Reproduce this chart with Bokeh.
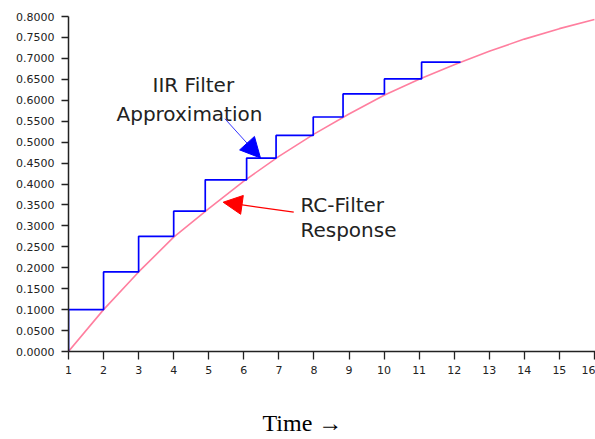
from bokeh.plotting import figure
from bokeh.models import Range1d, FixedTicker, NumeralTickFormatter, Label, Arrow, NormalHead, Title
from bokeh.embed import file_html
from bokeh.resources import INLINE

# RC-filter response (pink curve), read at integer times
curve_t = [1, 2, 3, 4, 5, 6, 7, 8, 9, 10, 11, 12, 13, 14, 15, 16]
curve_y = [0.000, 0.100, 0.190, 0.273, 0.341, 0.407, 0.466, 0.519,
           0.567, 0.612, 0.650, 0.685, 0.717, 0.746, 0.771, 0.793]

# IIR filter approximation (blue staircase): step edges and levels
step_t = [1.0, 1.0, 2.0, 3.0, 4.0, 4.9, 6.08, 6.92, 7.98, 8.83, 10.01, 11.07, 12.18]
step_y = [0.000, 0.100, 0.190, 0.275, 0.335, 0.410, 0.462, 0.516, 0.560, 0.615, 0.651, 0.691, 0.691]

x_ticks = list(range(1, 17))
y_ticks = [round(0.05 * i, 2) for i in range(17)]

p = figure(width=595, height=439, output_backend="svg", toolbar_location=None,
           x_range=Range1d(1, 16.03), y_range=Range1d(0, 0.8),
           min_border_left=68, min_border_right=0, min_border_top=16, min_border_bottom=88)
p.outline_line_color = None
p.grid.visible = False
p.background_fill_color = "white"
p.border_fill_color = "white"

p.line(curve_t, curve_y, line_color="#FF7F9F", line_width=1.6)
p.step(step_t, step_y, mode="after", line_color="#0000FF", line_width=1.7)

for ax in (p.xaxis[0], p.yaxis[0]):
    ax.axis_line_color = "#222222"
    ax.axis_line_width = 1.5
    ax.major_tick_line_color = "#222222"
    ax.major_tick_line_width = 1.3
    ax.major_tick_in = 0
    ax.minor_tick_line_color = None
    ax.major_label_text_font = "DejaVu Sans"
    ax.major_label_text_font_size = "11px"
    ax.major_label_text_color = "#222222"

p.xaxis.ticker = FixedTicker(ticks=x_ticks)
p.xaxis.major_tick_out = 8
p.xaxis.major_label_standoff = 6
p.yaxis.ticker = FixedTicker(ticks=y_ticks)
p.yaxis.formatter = NumeralTickFormatter(format="0.0000")
p.yaxis.major_tick_out = 7
p.yaxis.major_label_standoff = 7

font = "DejaVu Sans"
p.add_layout(Label(x=4.56, y=0.6376, text="IIR Filter", text_align="center",
                   text_baseline="alphabetic", text_font=font, text_font_size="20px",
                   text_color="#222222"))
p.add_layout(Label(x=4.45, y=0.5667, text="Approximation", text_align="center",
                   text_baseline="alphabetic", text_font=font, text_font_size="20px",
                   text_color="#222222"))
p.add_layout(Label(x=7.615, y=0.3487, text="RC-Filter", text_align="left",
                   text_baseline="alphabetic", text_font=font, text_font_size="20px",
                   text_color="#222222"))
p.add_layout(Label(x=7.615, y=0.2890, text="Response", text_align="left",
                   text_baseline="alphabetic", text_font=font, text_font_size="20px",
                   text_color="#222222"))

# spacer below the x axis, then the caption
p.add_layout(Title(text=" ", text_font_size="1px", standoff=28), "below")
p.add_layout(Title(text="Time \u2192", align="left", offset=194, standoff=0,
                   text_font="Liberation Serif", text_font_size="24px",
                   text_font_style="normal", text_color="black"), "below")

p.add_layout(Arrow(end=NormalHead(size=20, fill_color="#0000FF", line_color="#0000FF"),
                   x_start=5.462, y_start=0.5557, x_end=6.475, y_end=0.4621,
                   line_color="#0000FF", line_width=0.8))
p.add_layout(Arrow(end=NormalHead(size=19, fill_color="#FF0000", line_color="#FF0000"),
                   x_start=7.424, y_start=0.3327, x_end=5.411, y_end=0.3565,
                   line_color="#FF0000", line_width=1.3))

open("out.html", "w").write(file_html(p, INLINE))
